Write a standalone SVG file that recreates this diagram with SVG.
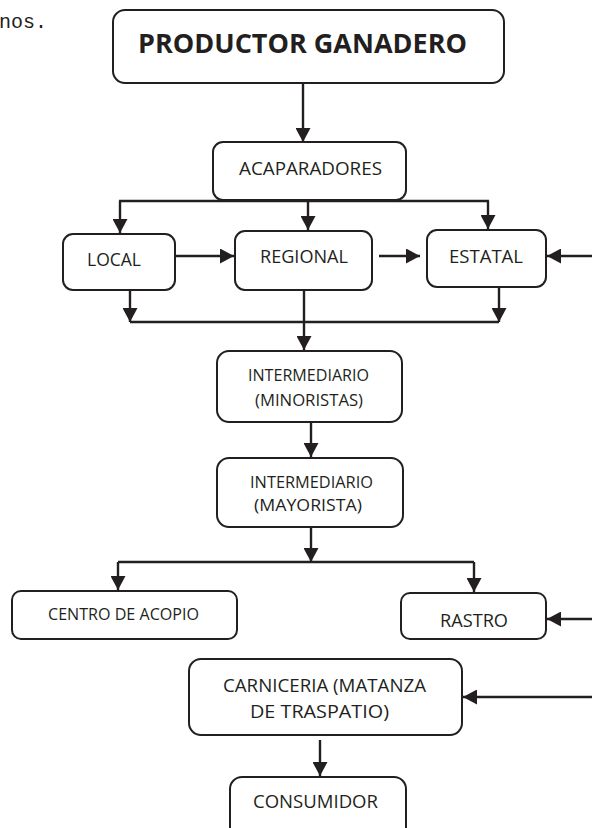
<svg xmlns="http://www.w3.org/2000/svg" width="592" height="828" viewBox="0 0 592 828">
<style>
.box{fill:#fff;stroke:#231f20;stroke-width:2}
.t{font-family:"Open Sans","Liberation Sans",sans-serif;fill:#231f20;font-size:18px}
.s{font-size:15.5px}
.b{font-weight:bold;font-size:26px}
.c{fill:none;stroke:#231f20;stroke-width:2.4}
</style>
<defs>
<marker id="ah" markerUnits="userSpaceOnUse" markerWidth="15" markerHeight="15" refX="14" refY="7.5" orient="auto"><path d="M0,0 L14,7.5 L0,15 z" fill="#231f20"/></marker>
</defs>
<rect width="592" height="828" fill="#fff"/>
<text x="-1" y="28" font-family="Liberation Mono, monospace" font-size="20" fill="#231f20">nos.</text>

<g id="connectors" class="c">
<line x1="303" y1="83" x2="303" y2="142" marker-end="url(#ah)"/>
<polyline points="119,201 489,201"/>
<line x1="120" y1="201" x2="120" y2="233" marker-end="url(#ah)"/>
<line x1="308" y1="200" x2="308" y2="230" marker-end="url(#ah)"/>
<line x1="488" y1="201" x2="488" y2="229" marker-end="url(#ah)"/>
<line x1="175" y1="256" x2="234" y2="256" marker-end="url(#ah)"/>
<line x1="379" y1="256" x2="420" y2="256" marker-end="url(#ah)"/>
<line x1="592" y1="256" x2="547" y2="256" marker-end="url(#ah)"/>
<line x1="130" y1="290" x2="130" y2="322" marker-end="url(#ah)"/>
<line x1="499" y1="287" x2="499" y2="322" marker-end="url(#ah)"/>
<polyline points="130,322 499,322"/>
<line x1="304" y1="290" x2="304" y2="350" marker-end="url(#ah)"/>
<line x1="311" y1="422" x2="311" y2="457" marker-end="url(#ah)"/>
<line x1="311" y1="527" x2="311" y2="562" marker-end="url(#ah)"/>
<polyline points="118,562 474,562"/>
<line x1="118" y1="562" x2="118" y2="590" marker-end="url(#ah)"/>
<line x1="474" y1="562" x2="474" y2="592" marker-end="url(#ah)"/>
<line x1="592" y1="619" x2="547" y2="619" marker-end="url(#ah)"/>
<line x1="592" y1="697" x2="463" y2="697" marker-end="url(#ah)"/>
<line x1="320" y1="740" x2="320" y2="776" marker-end="url(#ah)"/>
</g>

<g id="productor">
<rect class="box" x="113" y="10" width="391" height="73" rx="12"/>
<text class="t b" x="138" y="53" textLength="329" lengthAdjust="spacingAndGlyphs">PRODUCTOR GANADERO</text>
</g>
<g id="acaparadores">
<rect class="box" x="213" y="142" width="193" height="58" rx="10"/>
<text class="t" x="239" y="175" textLength="143" lengthAdjust="spacingAndGlyphs">ACAPARADORES</text>
</g>
<g id="local">
<rect class="box" x="63" y="234" width="112" height="56" rx="10"/>
<text class="t" x="87" y="266" textLength="54" lengthAdjust="spacingAndGlyphs">LOCAL</text>
</g>
<g id="regional">
<rect class="box" x="235" y="231" width="137" height="59" rx="10"/>
<text class="t" x="260" y="263" textLength="88" lengthAdjust="spacingAndGlyphs">REGIONAL</text>
</g>
<g id="estatal">
<rect class="box" x="427" y="230" width="119" height="57" rx="10"/>
<text class="t" x="449" y="263" textLength="74" lengthAdjust="spacingAndGlyphs">ESTATAL</text>
</g>
<g id="minoristas">
<rect class="box" x="217" y="351" width="185" height="71" rx="12"/>
<text class="t s" x="248" y="381" textLength="121" lengthAdjust="spacingAndGlyphs">INTERMEDIARIO</text>
<text class="t s" x="255" y="406" textLength="108" lengthAdjust="spacingAndGlyphs">(MINORISTAS)</text>
</g>
<g id="mayorista">
<rect class="box" x="217" y="458" width="186" height="69" rx="12"/>
<text class="t s" x="250" y="488" textLength="123" lengthAdjust="spacingAndGlyphs">INTERMEDIARIO</text>
<text class="t s" x="254" y="511" textLength="108" lengthAdjust="spacingAndGlyphs">(MAYORISTA)</text>
</g>
<g id="centro">
<rect class="box" x="12" y="591" width="225" height="48" rx="9"/>
<text class="t" style="font-size:16px" x="48" y="620" textLength="151" lengthAdjust="spacingAndGlyphs">CENTRO DE ACOPIO</text>
</g>
<g id="rastro">
<rect class="box" x="401" y="593" width="145" height="46" rx="9"/>
<text class="t" x="440" y="627" textLength="68" lengthAdjust="spacingAndGlyphs">RASTRO</text>
</g>
<g id="carniceria">
<rect class="box" x="189" y="659" width="273" height="76" rx="12"/>
<text class="t" x="223" y="692" textLength="203" lengthAdjust="spacingAndGlyphs">CARNICERIA (MATANZA</text>
<text class="t" x="250" y="718" textLength="139" lengthAdjust="spacingAndGlyphs">DE TRASPATIO)</text>
</g>
<g id="consumidor">
<rect class="box" x="230" y="777" width="176" height="70" rx="12"/>
<text class="t" x="253" y="808" textLength="125" lengthAdjust="spacingAndGlyphs">CONSUMIDOR</text>
</g>
</svg>
